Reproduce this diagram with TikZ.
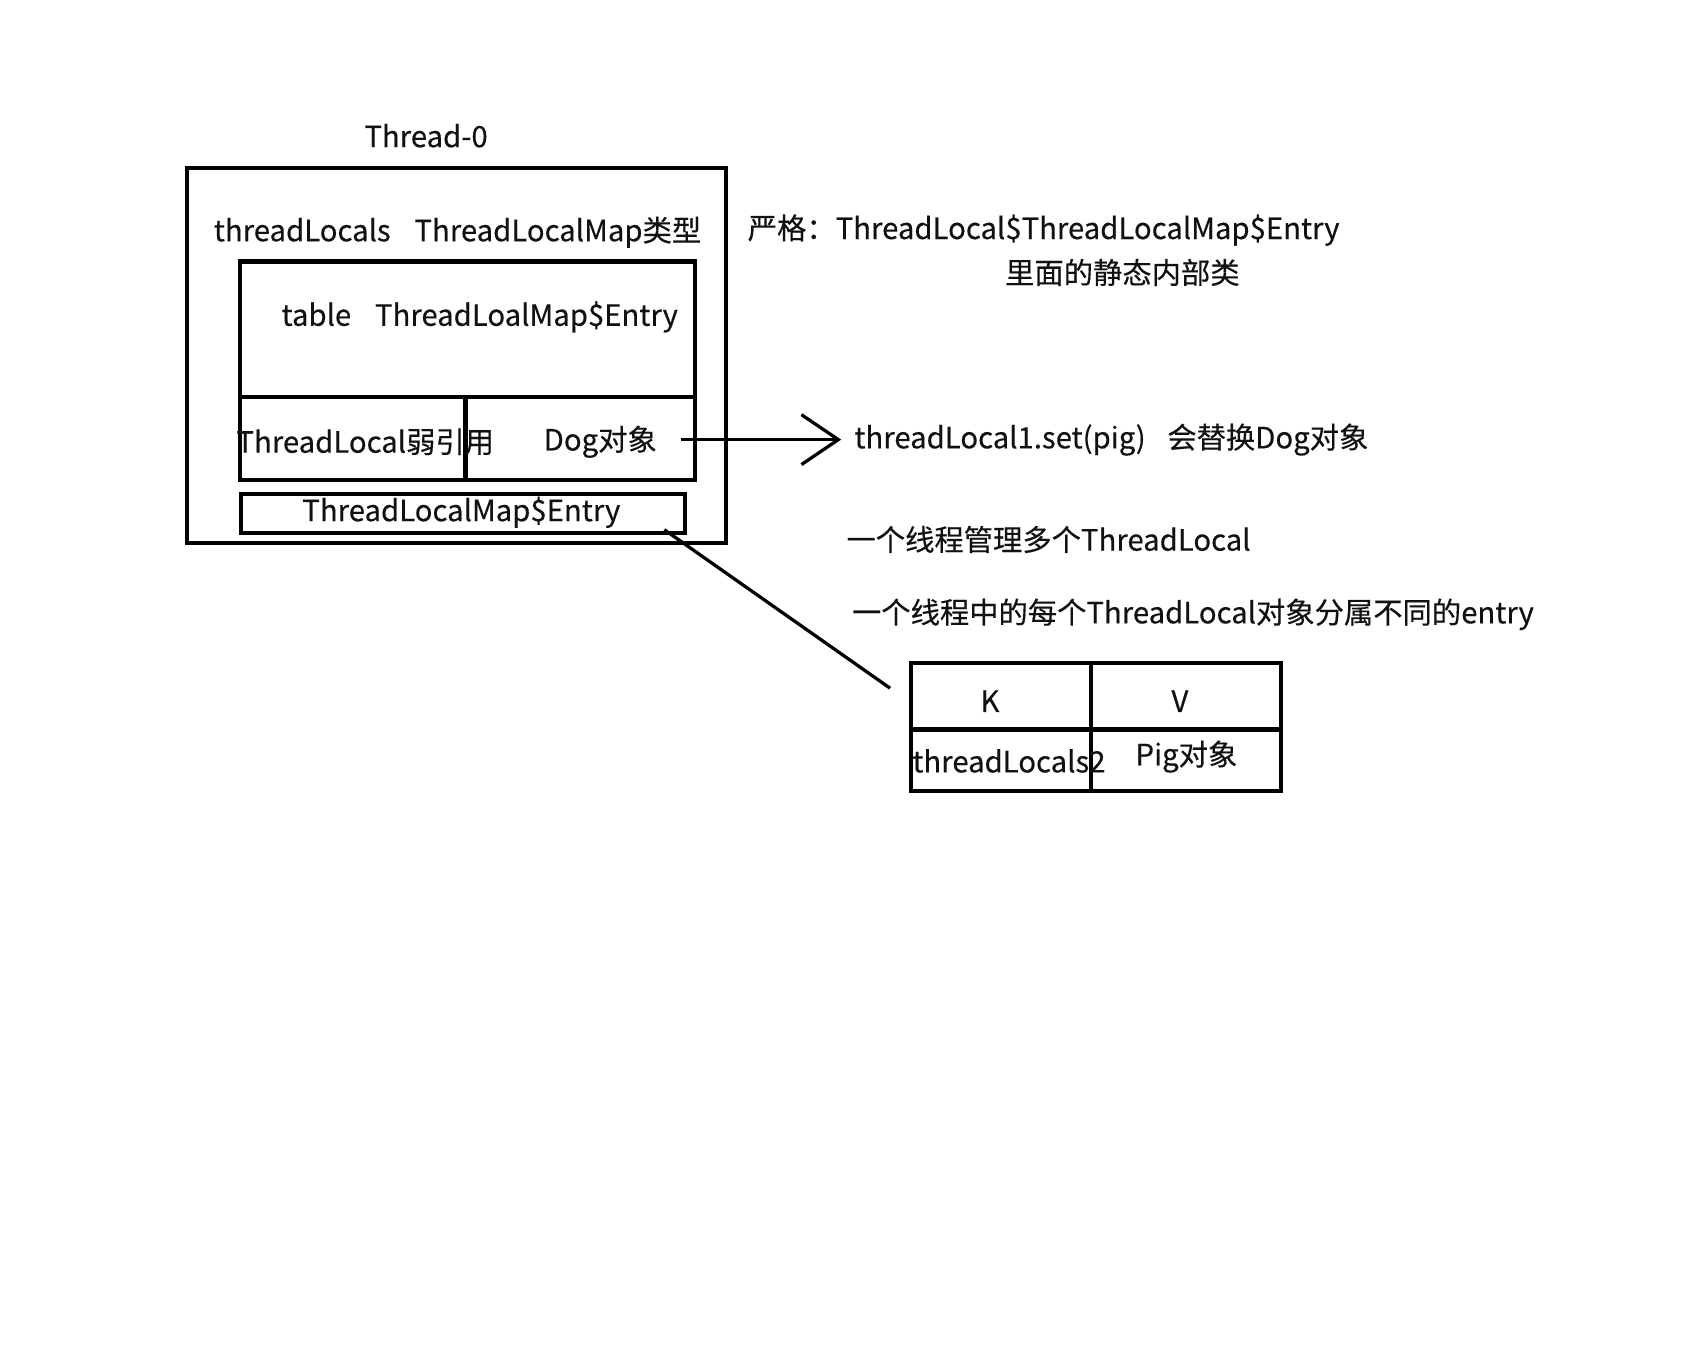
\documentclass[tikz,border=0pt]{standalone}
\usepackage{fontspec}
\setmainfont{Noto Sans CJK SC}
\newfontfamily\lblfont{Noto Sans CJK SC}[FakeBold=0.3]
\usetikzlibrary{arrows.meta}
\definecolor{ink}{HTML}{111111}
\tikzset{
  box/.style={draw=black, line width=4pt, inner sep=0pt, outer sep=0pt},
  lbl/.style={inner sep=0pt, text=ink, font=\lblfont\fontsize{27}{32}\selectfont},
  conn/.style={draw=black, line width=3pt},
}
\begin{document}
\begin{tikzpicture}[x=1pt,y=-1pt]
\fill[white] (0,0) rectangle (1568,1255);
\useasboundingbox (0,0) rectangle (1568,1255);
% boxes
\node[box, minimum width=497pt, minimum height=345pt] (outer) at (420.5,327.5) {};
\node[box, minimum width=419pt, minimum height=201pt] (table) at (430.5,341.5) {};
\draw[line width=4pt] (221,366) coordinate (divl) -- (640,366) coordinate (divr);
\draw[line width=4pt] (429,366) coordinate (vdt) -- (429,442) coordinate (vdb);
\node[box, minimum width=409pt, minimum height=36pt] (entry) at (426.5,473) {};
\node[box, minimum width=341pt, minimum height=118pt] (kv) at (1009.5,670) {};
\draw[line width=4pt] (839,672) coordinate (kvl) -- (1180,672) coordinate (kvr);
\draw[line width=4pt] (1005,611) coordinate (kvt) -- (1005,729) coordinate (kvb);
% texts
\node[lbl] (thread) at (392.5,125) {Thread-0};
\node[lbl] (tlocals) at (421.5,214) {threadLocals\hspace{22pt}ThreadLocalMap类型};
\node[lbl] (tbl) at (442,292) {table\hspace{22pt}ThreadLoalMap\$Entry};
\node[lbl] (weak) at (336.5,407) {ThreadLocal弱引用};
\node[lbl] (dog) at (553,407) {Dog对象};
\node[lbl, anchor=west] (set) at (787,405) {threadLocal1.set(pig)\hspace{20pt}会替换Dog对象};
\node[lbl] (entrytxt) at (425,472) {ThreadLocalMap\$Entry};
\node[lbl] (strict) at (961.5,212) {严格：ThreadLocal\$ThreadLocalMap\$Entry};
\node[lbl] (inner) at (1034,251) {里面的静态内部类};
\node[lbl] (one) at (966,497) {一个线程管理多个ThreadLocal};
\node[lbl] (each) at (1099,566) {一个线程中的每个ThreadLocal对象分属不同的entry};
\node[lbl] (k) at (912,646) {K};
\node[lbl] (v) at (1087,646) {V};
\node[lbl] (tl2) at (929.5,701) {threadLocals2};
\node[lbl] (pig) at (1093,697) {Pig对象};
% connectors
\coordinate (arrs) at (627,405);
\coordinate (arre) at (775,405);
\draw[conn, -{Straight Barb[length=34pt, width=46pt, line width=3pt]}] (arrs) -- (arre);
\coordinate (ds) at (612,488);
\coordinate (de) at (820,634);
\draw[conn] (ds) -- (de);
\end{tikzpicture}
\end{document}
